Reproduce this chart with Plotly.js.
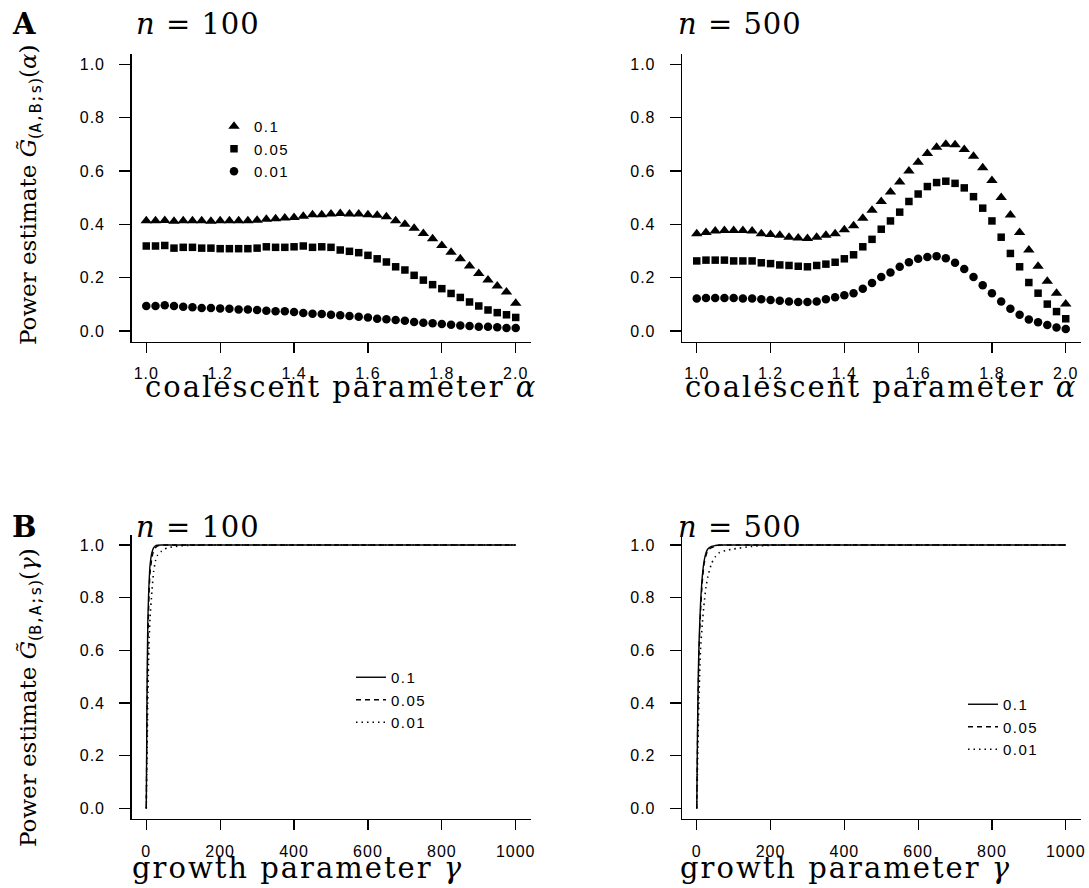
<!DOCTYPE html>
<html>
<head>
<meta charset="utf-8">
<script src="https://cdn.plot.ly/plotly-3.0.1.min.js"></script>
<style>html,body{margin:0;padding:0;background:#fff}#chart{width:1089px;height:888px}</style>
</head>
<body>
<div id="chart"></div>
<script>
// ---------- data ----------
const alphaGrid = [1.000,1.025,1.050,1.075,1.100,1.125,1.150,1.175,1.200,1.225,1.250,1.275,1.300,1.325,1.350,1.375,1.400,1.425,1.450,1.475,1.500,1.525,1.550,1.575,1.600,1.625,1.650,1.675,1.700,1.725,1.750,1.775,1.800,1.825,1.850,1.875,1.900,1.925,1.950,1.975,2.000];

// Panel A, n = 100
const a100_p10 = [0.414,0.414,0.415,0.412,0.414,0.414,0.414,0.412,0.414,0.414,0.414,0.414,0.416,0.419,0.421,0.424,0.426,0.431,0.436,0.436,0.439,0.441,0.439,0.439,0.436,0.434,0.429,0.414,0.401,0.386,0.366,0.346,0.321,0.296,0.271,0.244,0.216,0.191,0.169,0.146,0.104];
const a100_p05 = [0.319,0.319,0.321,0.311,0.314,0.314,0.311,0.311,0.309,0.309,0.309,0.309,0.311,0.316,0.314,0.314,0.316,0.319,0.314,0.316,0.314,0.304,0.299,0.294,0.284,0.271,0.259,0.241,0.229,0.209,0.191,0.174,0.159,0.141,0.126,0.109,0.094,0.079,0.069,0.061,0.051];
const a100_p01 = [0.094,0.094,0.097,0.094,0.091,0.089,0.086,0.086,0.085,0.084,0.081,0.081,0.079,0.076,0.074,0.074,0.071,0.068,0.065,0.064,0.061,0.059,0.056,0.054,0.051,0.046,0.044,0.041,0.039,0.034,0.031,0.029,0.026,0.024,0.021,0.019,0.016,0.016,0.014,0.011,0.011];

// Panel A, n = 500
const a500_p10 = [0.365,0.370,0.375,0.377,0.377,0.377,0.375,0.365,0.362,0.359,0.352,0.349,0.347,0.352,0.359,0.365,0.380,0.395,0.423,0.453,0.486,0.522,0.559,0.600,0.633,0.666,0.689,0.701,0.699,0.681,0.656,0.613,0.565,0.501,0.435,0.370,0.304,0.243,0.187,0.142,0.101];
const a500_p05 = [0.263,0.266,0.266,0.266,0.263,0.263,0.263,0.256,0.253,0.248,0.246,0.243,0.241,0.246,0.251,0.258,0.271,0.286,0.316,0.344,0.382,0.413,0.446,0.486,0.514,0.542,0.557,0.562,0.554,0.537,0.504,0.461,0.413,0.352,0.291,0.241,0.182,0.142,0.101,0.073,0.046];
const a500_p01 = [0.122,0.124,0.124,0.124,0.124,0.122,0.122,0.119,0.116,0.114,0.111,0.109,0.109,0.111,0.119,0.127,0.134,0.142,0.159,0.180,0.203,0.220,0.241,0.258,0.271,0.278,0.281,0.273,0.256,0.233,0.203,0.172,0.142,0.111,0.084,0.061,0.043,0.033,0.023,0.013,0.008];

// Panel B
const gammaGrid = [0,2,4,6,8,10,15,20,25,30,40,50,60,80,100,150,200,300,400,500,600,700,800,900,1000];
const b100_p10 = [0,0.45,0.70,0.80,0.87,0.92,0.97,0.99,0.997,0.999,1,1,1,1,1,1,1,1,1,1,1,1,1,1,1];
const b100_p05 = [0,0.35,0.60,0.74,0.83,0.89,0.95,0.98,0.99,0.996,0.999,1,1,1,1,1,1,1,1,1,1,1,1,1,1];
const b100_p01 = [0,0.20,0.40,0.55,0.65,0.72,0.82,0.90,0.94,0.96,0.975,0.985,0.99,0.995,0.998,1,1,1,1,1,1,1,1,1,1];
const b500_p10 = [0,0.30,0.50,0.62,0.70,0.77,0.88,0.94,0.97,0.985,0.995,0.998,1,1,1,1,1,1,1,1,1,1,1,1,1];
const b500_p05 = [0,0.25,0.45,0.58,0.67,0.74,0.86,0.93,0.96,0.98,0.99,0.996,0.999,1,1,1,1,1,1,1,1,1,1,1,1];
const b500_p01 = [0,0.15,0.30,0.42,0.52,0.60,0.70,0.78,0.84,0.88,0.93,0.955,0.97,0.98,0.985,0.995,0.999,1,1,1,1,1,1,1,1];

// Tick labels
const alphaTicks = [1.0,1.2,1.4,1.6,1.8,2.0];
const alphaTickText = ['1.0','1.2','1.4','1.6','1.8','2.0'];
const gammaTicks = [0,200,400,600,800,1000];
const gammaTickText = ['0','200','400','600','800','1000'];
const powerTicks = [0,0.2,0.4,0.6,0.8,1.0];
const powerTickText = ['0.0','0.2','0.4','0.6','0.8','1.0'];

const levels = ['0.1','0.05','0.01'];
const symbols = ['triangle-up','square','circle'];
const symSizes = [10,7.5,8.5];
const dashes = ['solid','5px,4px','1.5px,4px'];

// ---------- layout helpers ----------
const W = 1089, H = 888;
const px = v => v / W;
const py = v => 1 - v / H;
const ls = (t, s) => '<span style="letter-spacing:' + s + 'px">' + t + '</span>';

const traces = [];
const aSets = [[a100_p10,a100_p05,a100_p01],[a500_p10,a500_p05,a500_p01]];
aSets.forEach((set, k) => {
  set.forEach((ys, j) => {
    traces.push({
      x: alphaGrid, y: ys, type: 'scatter', mode: 'markers',
      name: ls(levels[j], 1.5), xaxis: k === 0 ? 'x' : 'x2', yaxis: k === 0 ? 'y' : 'y2',
      marker: {symbol: symbols[j], size: symSizes[j], color: '#000'},
      showlegend: k === 0, legend: 'legend', cliponaxis: false
    });
  });
});
const bSets = [[b100_p10,b100_p05,b100_p01],[b500_p10,b500_p05,b500_p01]];
bSets.forEach((set, k) => {
  set.forEach((ys, j) => {
    traces.push({
      x: gammaGrid, y: ys, type: 'scatter', mode: 'lines',
      name: ls(levels[j], 1.5), xaxis: k === 0 ? 'x3' : 'x4', yaxis: k === 0 ? 'y3' : 'y4',
      line: {color: '#000', width: j === 2 ? 1.6 : 1.4, dash: dashes[j], shape: 'spline', smoothing: 0.5},
      showlegend: true, legend: k === 0 ? 'legend2' : 'legend3'
    });
  });
});

const tickFont = {family: 'Liberation Sans, Arial, sans-serif', size: 16, color: '#000'};
function xax(domain, anchor, range, vals, text) {
  return {domain, anchor, range, tickmode: 'array', tickvals: vals, ticktext: text.map(t => ls(t, 1)),
    showline: true, linecolor: '#000', linewidth: 1.3,
    mirror: false, showgrid: false, zeroline: false, ticks: 'outside', ticklen: 10, tickwidth: 1.3, tickcolor: '#000',
    tickfont: tickFont, ticklabelstandoff: 7, fixedrange: true};
}
function yax(domain, anchor) {
  return {domain, anchor, range: [-0.04, 1.04], tickmode: 'array', tickvals: powerTicks,
    ticktext: powerTickText.map(t => ls(t, 1)), showline: true, linecolor: '#000',
    linewidth: 1.3, mirror: false, showgrid: false, zeroline: false, ticks: 'outside', ticklen: 11, tickwidth: 1.3,
    tickcolor: '#000', tickfont: tickFont, ticklabelstandoff: 11, fixedrange: true};
}

const topY = [py(341.7), py(53.8)];
const botY = [py(819), py(534.5)];
const leftX = [px(131.5), px(530.5)];
const rightX = [px(682), px(1080.5)];

const serif = 'DejaVu Serif, serif';
const tFont = {family: serif, size: 29, color: '#000'};
function ann(text, x, y, opts) {
  return Object.assign({text, x: px(x), y: py(y), xref: 'paper', yref: 'paper', showarrow: false,
    xanchor: 'center', yanchor: 'middle', font: tFont}, opts || {});
}
const tt = "font-family:'DejaVu Sans Mono',monospace";
const yFont = {family: serif, size: 23, color: '#000'};
const annotations = [
  ann('<b>A</b>', 10, 24, {xanchor: 'left'}),
  ann('<b>B</b>', 10, 527, {xanchor: 'left'}),
  ann(ls('<i>n</i> = 100', 1), 198, 24),
  ann(ls('<i>n</i> = 500', 1), 740, 24),
  ann(ls('<i>n</i> = 100', 1), 198, 527),
  ann(ls('<i>n</i> = 500', 1), 740, 527),
  ann(ls('coalescent parameter <i>α</i>', 2), 341, 387),
  ann(ls('coalescent parameter <i>α</i>', 2), 881, 387),
  ann(ls('growth parameter <i>γ</i>', 2), 297, 868),
  ann(ls('growth parameter <i>γ</i>', 2), 845, 868),
  ann('Power estimate <i>G\u0303</i><sub>(<span style="' + tt + '">A,B;s</span>)</sub>(<i>α</i>)', 30, 195, {textangle: -90, font: yFont}),
  ann('Power estimate <i>G\u0303</i><sub>(<span style="' + tt + '">B,A;s</span>)</sub>(<i>γ</i>)', 30, 698, {textangle: -90, font: yFont})
];

const legFont = {family: 'Liberation Sans, Arial, sans-serif', size: 15, color: '#000'};
const legBase = {bgcolor: 'rgba(0,0,0,0)', borderwidth: 0, font: legFont, xanchor: 'left', yanchor: 'top', itemclick: false, itemdoubleclick: false, tracegroupgap: 0};

const layout = {
  width: W, height: H, margin: {l: 0, r: 0, t: 0, b: 0},
  paper_bgcolor: '#fff', plot_bgcolor: '#fff',
  xaxis: xax(leftX, 'y', [0.96, 2.04], alphaTicks, alphaTickText),
  yaxis: yax(topY, 'x'),
  xaxis2: xax(rightX, 'y2', [0.96, 2.04], alphaTicks, alphaTickText),
  yaxis2: yax(topY, 'x2'),
  xaxis3: xax(leftX, 'y3', [-40, 1040], gammaTicks, gammaTickText),
  yaxis3: yax(botY, 'x3'),
  xaxis4: xax(rightX, 'y4', [-40, 1040], gammaTicks, gammaTickText),
  yaxis4: yax(botY, 'x4'),
  legend: Object.assign({}, legBase, {x: px(214), y: py(110)}),
  legend2: Object.assign({}, legBase, {x: px(351), y: py(661)}),
  legend3: Object.assign({}, legBase, {x: px(963), y: py(688)}),
  annotations, showlegend: true
};

Plotly.newPlot('chart', traces, layout, {staticPlot: true, displayModeBar: false});
</script>
</body>
</html>
